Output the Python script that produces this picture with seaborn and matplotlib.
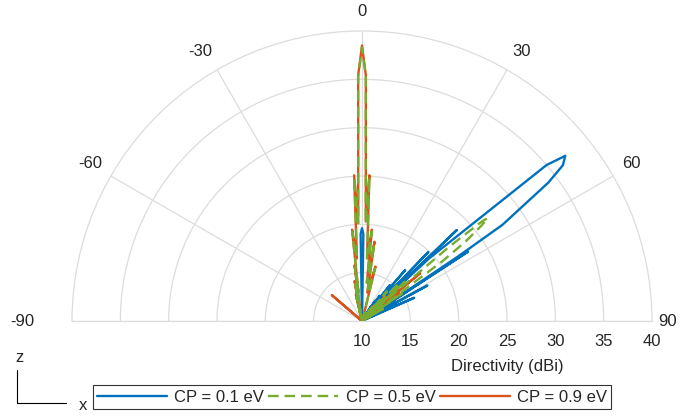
import numpy as np
import pandas as pd
import matplotlib
matplotlib.use("Agg")
import matplotlib.pyplot as plt
import seaborn as sns
from matplotlib.lines import Line2D
from matplotlib import transforms

# ---------------- data (angle in degrees from z axis, directivity in dBi) -------------
series_labels = ["CP = 0.1 eV", "CP = 0.5 eV", "CP = 0.9 eV"]

theta_cp01 = [-90, -1.5, -0.9, 0, 0.9, 1.5, 30, 31.5, 32.5, 33, 34, 35, 36, 37.9, 38.8,
              39.5, 40.3, 41.2, 42.0, 42.5, 43.2, 43.9, 44.3, 44.8, 45.4, 46.2, 46.5,
              47.0, 49.8, 50.9, 52.2, 53.4, 55.6, 56.1, 56.4, 56.8, 57.3, 58.5, 59.5,
              60.5, 61.0, 61.5, 62.5, 63.2, 64, 65, 66, 67, 90]
dbi_cp01 = [10, 10, 19.0, 19.6, 19.0, 10, 10, 11.8, 10.5, 12.5, 10, 13.2, 11, 14.7, 10.5,
            13.5, 16.9, 10.5, 14.2, 13, 10.5, 19.9, 11, 14.9, 10.5, 23.6, 14,
            19.5, 35.0, 37.1, 36.3, 34.0, 27.6, 22.0, 12, 23.1, 11, 14, 10.5,
            13.8, 10.5, 17.7, 10.5, 13.5, 11, 12.5, 15.9, 10, 10]

theta_cp05 = [-90, -20, -14, -13, -12, -10.5, -9.5, -7.6, -7.0, -6.2, -4.6, -3.1, -2.2,
              -0.9, 0, 0.9, 2.2, 2.9, 4.6, 6.2, 7.2, 9.0, 10.5, 13.9, 15, 18,
              32, 35, 36, 40, 41, 44.5, 45.5, 47.5, 48.2, 48.8, 49.6, 50.3, 50.7,
              51.4, 52.5, 53.4, 54, 55.5, 56.5, 60, 61, 90]
dbi_cp05 = [10, 10, 11, 12.5, 10.5, 14, 11, 15.5, 13, 19.3, 16.5, 24.9, 20.1,
            35.3, 38.3, 35.3, 20.1, 24.9, 16.5, 19.3, 14, 18.1, 13, 15.6, 11, 10,
            10, 12, 10, 14, 10, 15.5, 10, 16, 11, 12, 22, 26.1, 26.8,
            25.8, 23.5, 20.3, 12, 15, 10, 12.5, 10, 10]

theta_cp09 = [-90, -52, -49.4, -48.5, -20, -14, -13, -12, -10.5, -9.5, -7.6, -7, -6.2,
              -4.6, -3.1, -2.2, -0.9, 0, 0.9, 2.2, 2.9, 4.6, 6.2, 7.2, 9, 10.5,
              13.9, 15, 18, 35, 38, 39, 43, 44, 47, 48, 50.6, 51.5, 53, 54, 90]
dbi_cp09 = [10, 10, 14.1, 10, 10, 11, 12.8, 10.5, 14.2, 11, 15.8, 13, 19.5,
            16.5, 25.1, 20.3, 35.4, 38.5, 35.4, 20.3, 25.1, 16.5, 19.5, 14, 18.3, 13,
            15.8, 11, 10, 10, 12, 10, 13.5, 10, 15, 10, 17.8, 11, 14.8, 10, 10]

theta_ticks = [-90, -60, -30, 0, 30, 60, 90]
r_ticks = [10, 15, 20, 25, 30, 35, 40]

# ---------------- styling ----------------
sns.set_theme(style="white")
plt.rcParams['font.family'] = ['Liberation Sans', 'DejaVu Sans']
plt.rcParams['axes.unicode_minus'] = False

W, H = 694, 417
fig = plt.figure(figsize=(W / 100, H / 100), dpi=100)
cx, cy, R = 362, 321, 290
# square box; the half-disc wedge is centred vertically inside it
box_top = cy - R / 2 - R
ax = fig.add_axes([(cx - R) / W, (H - (box_top + 2 * R)) / H, 2 * R / W, 2 * R / H],
                  projection='polar')

c_blue, c_green, c_orange = "#0072BD", "#77AC30", "#D95319"
grid_c = "#DCDCDC"
txt_c = "#262626"
fs = 12
lw = 1.7

styles = [
    (theta_cp01, dbi_cp01, c_blue, '-', 2),
    (theta_cp09, dbi_cp09, c_orange, '-', 3),
    (theta_cp05, dbi_cp05, c_green, (0, (4.5, 2.5)), 4),
]
for th, r, col, ls, z in styles:
    df = pd.DataFrame({'theta': np.deg2rad(th), 'r': r})
    sns.lineplot(data=df, x='theta', y='r', ax=ax, sort=False, estimator=None,
                 color=col, lw=lw, linestyle=ls, zorder=z, legend=False)

ax.set_theta_zero_location('N')
ax.set_theta_direction(-1)
ax.set_thetamin(-90)
ax.set_thetamax(90)
ax.set_rlim(10, 40)
ax.set_xlabel('')
ax.set_ylabel('')

ax.set_xticks(np.deg2rad(theta_ticks))
ax.set_xticklabels([])
ax.set_yticks(r_ticks[1:-1])
ax.set_yticklabels([])
ax.grid(True, color=grid_c, lw=0.9)
for s in ax.spines.values():
    s.set_color(grid_c)
    s.set_linewidth(0.9)


def px(x, y):
    return x / W, 1 - y / H


# angle labels around the arc
theta_label_pos = {-90: (22, 321), -60: (90, 163), -30: (200, 52), 0: (362, 12),
                   30: (522, 52), 60: (631, 163), 90: (668, 321)}
for t in theta_ticks:
    fig.text(*px(*theta_label_pos[t]), str(t), ha='center', va='center',
             fontsize=fs, color=txt_c)

# radial labels under the baseline
off = transforms.ScaledTranslation(0, -20 / 100, fig.dpi_scale_trans)
for v in r_ticks:
    ax.text(np.deg2rad(90), v, str(v), transform=ax.transData + off,
            ha='center', va='center', fontsize=fs, color=txt_c, clip_on=False)

fig.text(*px(507, 367), "Directivity (dBi)", ha='center', va='center',
         fontsize=fs, color=txt_c)

# legend
handles = [
    Line2D([], [], color=c_blue, lw=lw),
    Line2D([], [], color=c_green, lw=lw, linestyle=(0, (4.5, 2.5))),
    Line2D([], [], color=c_orange, lw=lw),
]
leg = fig.legend(handles, series_labels, loc='center', ncol=3,
                 bbox_to_anchor=px(352, 397), frameon=True, fancybox=False,
                 edgecolor='black', fontsize=fs, handlelength=4.2, handletextpad=0.45,
                 columnspacing=0.25, borderpad=0.25, borderaxespad=0)
leg.get_frame().set_linewidth(0.8)
for t in leg.get_texts():
    t.set_color(txt_c)

# z / x orientation indicator
fig.add_artist(Line2D(*zip(px(17, 370), px(17, 403)), color='black', lw=0.8,
                      transform=fig.transFigure))
fig.add_artist(Line2D(*zip(px(17, 403), px(66, 403)), color='black', lw=0.8,
                      transform=fig.transFigure))
fig.text(*px(20, 357), "z", ha='center', va='center', fontsize=fs, color=txt_c)
fig.text(*px(83, 406), "x", ha='center', va='center', fontsize=fs, color=txt_c)

fig.savefig("out.png", dpi=100, facecolor='white')
